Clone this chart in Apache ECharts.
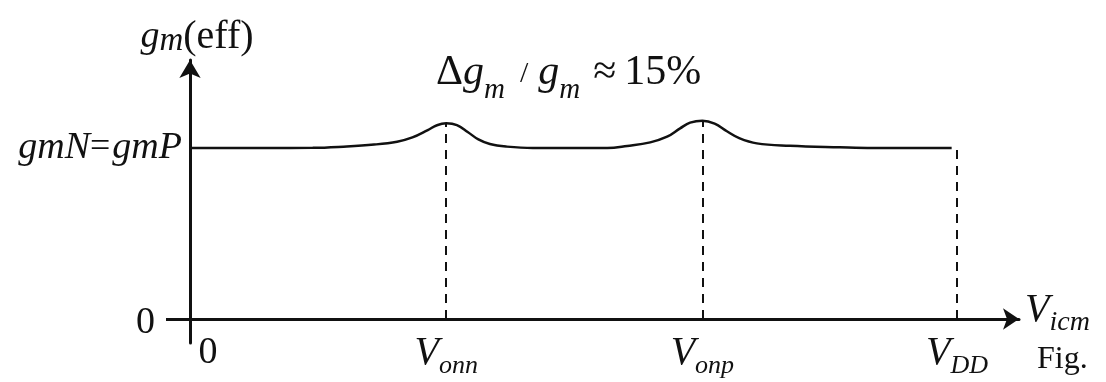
<!DOCTYPE html>
<html lang="en">

<head>
  <meta charset="UTF-8">
  <title>gm(eff) vs Vicm</title>
  <style>
    html, body { margin: 0; padding: 0; background: #fff; }
    #box { width: 1106px; height: 382px; }
  </style>
</head>

<body>
  <div id="box"></div>

  <script src="https://cdn.jsdelivr.net/npm/echarts@6/dist/echarts.min.js"></script>
  <script>
    // curve (x: fraction of VDD, y: gm / gmN)
    let vicm = [0, 0.100, 0.160, 0.200, 0.240, 0.270, 0.290, 0.310, 0.322, 0.334, 0.348, 0.362, 0.376, 0.391, 0.413, 0.447,
      0.544, 0.570, 0.600, 0.622, 0.639, 0.652, 0.668, 0.684, 0.700, 0.716, 0.739, 0.782, 0.847, 0.890, 0.993]
    let gmEff = [1.000, 1.000, 1.001, 1.008, 1.020, 1.037, 1.062, 1.105, 1.133, 1.144, 1.134, 1.094, 1.050, 1.023, 1.008, 1.000,
      1.000, 1.012, 1.033, 1.066, 1.115, 1.148, 1.160, 1.143, 1.098, 1.058, 1.027, 1.013, 1.004, 1.000, 1.000]

    // x ticks: 0, Vonn, Vonp, VDD
    let xTicks = [0, 0.334, 0.668, 1.0]
    let xTickLabels = ['{z|0}', '{v|V}{s|onn}', '{v|V}{s|onp}', '{v|V}{s|DD}']
    // dashed drop lines at Vonn, Vonp, VDD (top of each line)
    let dropX = [0.334, 0.668, 1.0]
    let dropTop = [1.144, 1.160, 1.0]
    // y ticks
    let yTicks = [0, 1]

    let serif = '"Liberation Serif", "DejaVu Serif", serif'
    let ink = '#111'

    let pts = []
    for (let i = 0; i < vicm.length; i++) {
      pts.push([vicm[i], gmEff[i]])
    }
    let drops = []
    for (let i = 0; i < dropX.length; i++) {
      drops.push([{ coord: [dropX[i], 0] }, { coord: [dropX[i], dropTop[i]] }])
    }

    let myChart = echarts.init(document.getElementById('box'))
    let option = {
      animation: false,
      title: {
        text: '{a|Δ}{g|g}{s|m}{d|/}{g|g}{s|m}{q|≈}{a|15%}',
        left: 431,
        top: 36,
        textStyle: {
          fontWeight: 'normal',
          rich: {
            a: { fontFamily: serif, fontSize: 42, fontWeight: 'normal', color: ink },
            g: { fontFamily: serif, fontSize: 42, fontStyle: 'italic', fontWeight: 'normal', color: ink },
            s: { fontFamily: serif, fontSize: 29, fontStyle: 'italic', fontWeight: 'normal', color: ink, padding: [35, 0, 0, 0] },
            d: { fontFamily: serif, fontSize: 30, fontWeight: 'normal', color: ink, padding: [3, 10, 0, 15] },
            q: { fontFamily: serif, fontSize: 42, fontWeight: 'normal', color: ink, padding: [0, 8, 0, 13] }
          }
        }
      },
      graphic: [{
        type: 'text',
        left: 1037,
        top: 344,
        style: { text: 'Fig. ', font: '32px ' + serif, fill: ink }
      }],
      grid: {
        left: 190,
        right: 87,
        top: 60,
        bottom: 39,
        outerBoundsMode: 'none'
      },
      xAxis: {
        type: 'value',
        min: 0,
        max: 1.0808,
        splitLine: { show: false },
        axisTick: { show: false },
        axisLine: {
          lineStyle: { color: ink, width: 3 },
          symbol: ['none', 'arrow'],
          symbolSize: [16, 16]
        },
        axisLabel: {
          customValues: xTicks,
          margin: -16,
          formatter: function (val) {
            return xTickLabels[xTicks.indexOf(val)]
          },
          rich: {
            z: { fontFamily: serif, fontSize: 38, color: ink, padding: [7, 0, 0, 36] },
            v: { fontFamily: serif, fontSize: 40, fontStyle: 'italic', color: ink },
            s: { fontFamily: serif, fontSize: 26, fontStyle: 'italic', color: ink, padding: [26, 0, 0, 0] }
          }
        },
        name: '{v|V}{s|icm}',
        nameLocation: 'end',
        nameGap: 6,
        nameTextStyle: {
          padding: [0, 0, 18, 0],
          rich: {
            v: { fontFamily: serif, fontSize: 40, fontStyle: 'italic', color: ink },
            s: { fontFamily: serif, fontSize: 28, fontStyle: 'italic', color: ink, padding: [26, 0, 0, 0] }
          }
        }
      },
      yAxis: {
        type: 'value',
        min: -0.1404,
        max: 1.5146,
        splitLine: { show: false },
        axisLine: {
          lineStyle: { color: ink, width: 3 },
          symbol: ['none', 'arrow'],
          symbolSize: [16, 18]
        },
        axisTick: {
          customValues: [0],
          length: 24,
          lineStyle: { color: ink, width: 3 }
        },
        axisLabel: {
          customValues: yTicks,
          margin: 8,
          formatter: function (val) {
            return val === 0 ? '{z|0}' : '{g|gmN}{e|=}{g|gmP}'
          },
          rich: {
            z: { fontFamily: serif, fontSize: 38, color: ink, padding: [8, 27, 0, 0] },
            g: { fontFamily: serif, fontSize: 38, fontStyle: 'italic', color: ink },
            e: { fontFamily: serif, fontSize: 36, color: ink, padding: [0, 2, 0, 0] }
          }
        },
        name: '{g|g}{s|m}{a|(eff)}',
        nameLocation: 'end',
        nameGap: 2,
        nameTextStyle: {
          padding: [0, 0, 0, 14],
          rich: {
            g: { fontFamily: serif, fontSize: 38, fontStyle: 'italic', color: ink },
            s: { fontFamily: serif, fontSize: 33, fontStyle: 'italic', color: ink, padding: [8, 0, 0, 0] },
            a: { fontFamily: serif, fontSize: 40, color: ink }
          }
        }
      },
      series: [{
        type: 'line',
        data: pts,
        smooth: 0.4,
        showSymbol: false,
        lineStyle: { color: ink, width: 2.5 },
        markLine: {
          silent: true,
          symbol: ['none', 'none'],
          label: { show: false },
          lineStyle: { color: ink, width: 2, type: [9, 7] },
          data: drops
        }
      }]
    }
    myChart.setOption(option)
  </script>
</body>

</html>
